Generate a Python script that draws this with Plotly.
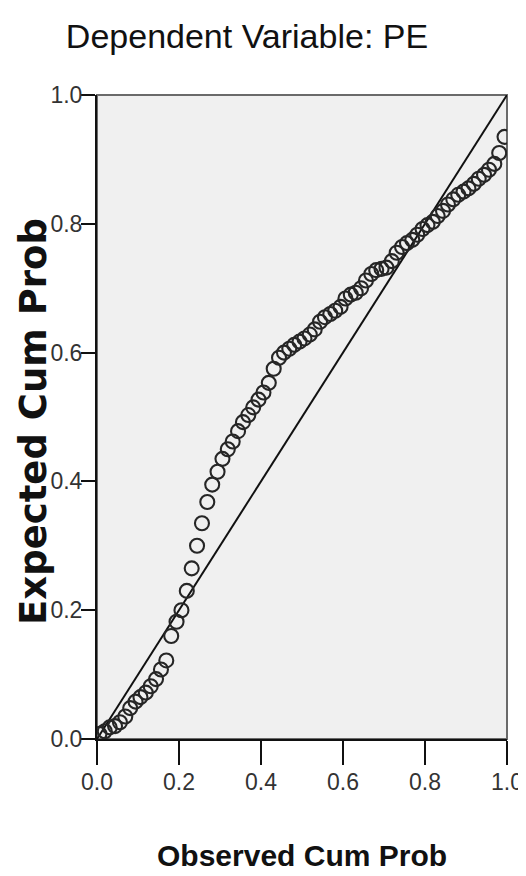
import plotly.graph_objects as go

# Observed cumulative probability (x) and expected cumulative probability (y)
observed_cum_prob = [
    0.006, 0.019, 0.031, 0.044, 0.056, 0.069, 0.081, 0.094, 0.106, 0.119,
    0.131, 0.144, 0.156, 0.169, 0.181, 0.194, 0.206, 0.219, 0.231, 0.244,
    0.256, 0.269, 0.281, 0.294, 0.306, 0.319, 0.331, 0.344, 0.356, 0.369,
    0.381, 0.394, 0.406, 0.419, 0.431, 0.444, 0.456, 0.469, 0.481, 0.494,
    0.506, 0.519, 0.531, 0.544, 0.556, 0.569, 0.581, 0.594, 0.606, 0.619,
    0.631, 0.644, 0.656, 0.669, 0.681, 0.694, 0.706, 0.719, 0.731, 0.744,
    0.756, 0.769, 0.781, 0.794, 0.806, 0.819, 0.831, 0.844, 0.856, 0.869,
    0.881, 0.894, 0.906, 0.919, 0.931, 0.944, 0.956, 0.969, 0.981, 0.994,
]
expected_cum_prob = [
    0.008, 0.012, 0.018, 0.020, 0.026, 0.035, 0.048, 0.058, 0.065, 0.072,
    0.082, 0.093, 0.108, 0.122, 0.160, 0.182, 0.200, 0.230, 0.265, 0.300,
    0.335, 0.368, 0.395, 0.415, 0.435, 0.450, 0.462, 0.478, 0.492, 0.503,
    0.515, 0.527, 0.538, 0.553, 0.575, 0.592, 0.600, 0.606, 0.612, 0.617,
    0.622, 0.628, 0.636, 0.648, 0.655, 0.660, 0.665, 0.671, 0.684, 0.690,
    0.693, 0.700, 0.712, 0.722, 0.728, 0.730, 0.732, 0.742, 0.755, 0.764,
    0.770, 0.775, 0.783, 0.792, 0.798, 0.803, 0.812, 0.820, 0.830, 0.838,
    0.845, 0.850, 0.855, 0.862, 0.870, 0.876, 0.884, 0.893, 0.910, 0.935,
]
ref_line = [0.0, 1.0]
tick_vals = [0.0, 0.2, 0.4, 0.6, 0.8, 1.0]
tick_text = ["0.0", "0.2", "0.4", "0.6", "0.8", "1.0"]

title_text = "Dependent Variable: PE"
x_title = "Observed Cum Prob"
y_title = "Expected Cum Prob"

SANS = "Liberation Sans, Arial, sans-serif"
WIDE = "DejaVu Sans, Liberation Sans, Arial, sans-serif"

# The page body adds an 8 px margin, so the figure is 8 px smaller each way.
W, H = 518, 868

fig = go.Figure()
fig.add_trace(go.Scatter(
    x=ref_line, y=ref_line, mode="lines",
    line=dict(color="#111111", width=2), hoverinfo="skip", showlegend=False,
))
fig.add_trace(go.Scatter(
    x=observed_cum_prob, y=expected_cum_prob, mode="markers",
    marker=dict(symbol="circle-open", size=14, color="#262626",
                line=dict(color="#262626", width=2.1)),
    showlegend=False,
))

fig.update_layout(
    width=W, height=H,
    margin=dict(l=89, r=19, t=87, b=137, autoexpand=False),
    paper_bgcolor="white", plot_bgcolor="#f0f0f0",
    title=dict(text=title_text, x=239 / W, xanchor="center",
               y=1 - 28 / H, yanchor="middle", yref="container",
               font=dict(family=SANS, size=34, color="#111111")),
    xaxis=dict(range=[0, 1], tickvals=tick_vals, ticktext=tick_text,
               showgrid=False, zeroline=False, automargin=False,
               showline=True, linecolor="#111111", linewidth=2,
               ticks="outside", ticklen=24, tickwidth=2, tickcolor="#111111",
               ticklabelstandoff=-3,
               tickfont=dict(family=SANS, size=23, color="#333333")),
    yaxis=dict(range=[0, 1], tickvals=tick_vals, ticktext=tick_text,
               showgrid=False, zeroline=False, automargin=False,
               showline=True, linecolor="#111111", linewidth=2,
               ticks="outside", ticklen=14, tickwidth=2, tickcolor="#111111",
               ticklabelstandoff=-6,
               tickfont=dict(family=SANS, size=23, color="#333333")),
    shapes=[dict(type="rect", xref="x domain", yref="y domain",
                 x0=0, x1=1, y0=0, y1=1,
                 line=dict(color="#6a6a6a", width=2), layer="below")],
    annotations=[
        dict(text="<b>" + x_title + "</b>", xref="paper", yref="paper",
             x=0.5, y=(739 - 855) / 644, xanchor="center", yanchor="middle",
             showarrow=False,
             font=dict(family=SANS, size=30, color="#111111")),
        dict(text="<b>" + y_title + "</b>", xref="paper", yref="paper",
             x=(33 - 97) / 410, y=(739 - 422) / 644, xanchor="center",
             yanchor="middle", textangle=-90, showarrow=False,
             font=dict(family=WIDE, size=37, color="#111111")),
    ],
)

fig.write_html("out.html")
